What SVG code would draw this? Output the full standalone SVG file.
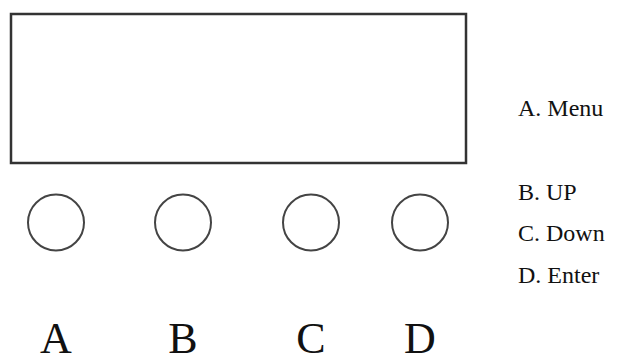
<svg xmlns="http://www.w3.org/2000/svg" width="634" height="356" viewBox="0 0 634 356">
<style>
.scr{fill:#fff;stroke:#333;stroke-width:2.5}
.btn{fill:#fff;stroke:#444;stroke-width:2}
.big{font-family:"Liberation Serif",serif;font-size:44px;fill:#111;text-anchor:middle}
.leg{font-family:"Liberation Serif",serif;font-size:24px;fill:#111}
</style>
<rect width="634" height="356" fill="#fff"/>
<g id="screen"><rect class="scr" x="11" y="14" width="455" height="149"/></g>
<g id="btnA"><circle class="btn" cx="56" cy="222.5" r="28"/><text class="big" x="56" y="353">A</text></g>
<g id="btnB"><circle class="btn" cx="183" cy="222.5" r="28"/><text class="big" x="183" y="353">B</text></g>
<g id="btnC"><circle class="btn" cx="311" cy="222.5" r="28"/><text class="big" x="311" y="353">C</text></g>
<g id="btnD"><circle class="btn" cx="420" cy="222.5" r="28"/><text class="big" x="420" y="353">D</text></g>
<g id="legend">
<text class="leg" x="518" y="116">A. Menu</text>
<text class="leg" x="518" y="200">B. UP</text>
<text class="leg" x="518" y="241">C. Down</text>
<text class="leg" x="518" y="283">D. Enter</text>
</g>
<g id="connectors"></g>
</svg>
